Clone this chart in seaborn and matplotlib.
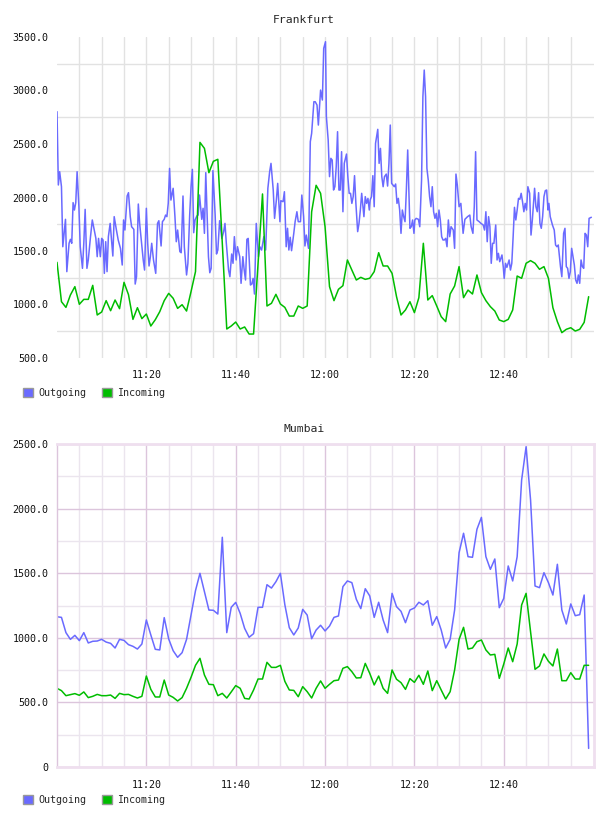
import pandas as pd
import numpy as np
import matplotlib
matplotlib.use("Agg")
import matplotlib.pyplot as plt
import matplotlib.dates as mdates
from matplotlib.patches import Patch
from matplotlib.ticker import FixedLocator, FuncFormatter
import seaborn as sns

''' DATA '''
base = pd.Timestamp("2024-01-01 11:00")

# Frankfurt outgoing (noisy, sub-minute samples): minutes after 11:00 and values
fra_out_min = [
    0.0, 0.3, 0.6, 1.0, 1.3, 1.9, 2.2, 2.7, 3.0, 3.3,
    3.6, 3.9, 4.2, 4.5, 4.9, 5.2, 5.7, 6.0, 6.3, 6.7,
    7.0, 7.5, 7.9, 8.4, 8.7, 9.0, 9.3, 9.7, 10.0, 10.3,
    10.6, 10.9, 11.2, 11.5, 11.9, 12.2, 12.5, 12.8, 13.3, 13.7,
    14.2, 14.6, 14.9, 15.2, 15.7, 16.0, 16.4, 16.7, 17.2, 17.5,
    17.8, 18.2, 18.5, 19.0, 19.3, 19.6, 20.0, 20.3, 20.6, 20.9,
    21.2, 21.6, 22.1, 22.5, 22.8, 23.3, 23.6, 24.0, 24.3, 24.6,
    24.9, 25.2, 25.5, 26.0, 26.4, 26.7, 27.0, 27.5, 27.8, 28.2,
    28.5, 29.0, 29.3, 29.7, 30.0, 30.3, 30.6, 30.9, 31.3, 31.6,
    31.9, 32.4, 32.7, 33.0, 33.3, 33.6, 33.9, 34.2, 34.5, 34.9,
    35.4, 35.7, 36.0, 36.4, 36.9, 37.3, 37.6, 37.9, 38.4, 38.7,
    39.1, 39.4, 39.7, 40.1, 40.4, 40.9, 41.2, 41.6, 41.9, 42.2,
    42.5, 42.8, 43.3, 43.6, 43.9, 44.2, 44.6, 45.1, 45.4, 45.8,
    46.3, 46.7, 47.2, 47.6, 47.9, 48.4, 48.7, 49.1, 49.4, 49.9,
    50.1, 50.6, 50.9, 51.3, 51.6, 51.9, 52.2, 52.5, 53.0, 53.3,
    53.7, 54.0, 54.5, 54.8, 55.2, 55.5, 55.8, 56.3, 56.7, 57.0,
    57.5, 57.8, 58.2, 58.5, 59.0, 59.4, 59.7, 60.1,
    60.3, 60.7, 61.0, 61.3, 61.6, 61.9, 62.2, 62.5, 62.8, 63.1,
    63.4, 63.7, 64.0, 64.3, 64.8, 65.1, 65.4, 65.7, 66.0, 66.3,
    66.6, 66.9, 67.3, 67.6, 67.9, 68.2, 68.7, 69.0, 69.3, 69.6,
    69.9, 70.1, 70.4, 70.7, 71.0, 71.3, 71.8, 72.1, 72.4, 72.7,
    73.0, 73.3, 73.7, 74.0, 74.3, 74.6, 74.9, 75.2, 75.5, 75.8,
    76.1, 76.4, 76.7, 77.0, 77.3, 77.6, 77.9, 78.2, 78.5, 79.0,
    79.3, 79.6, 79.9, 80.1, 80.4, 80.9, 81.2, 81.6, 81.9, 82.2,
    82.5, 82.8, 83.1, 83.4, 83.7, 84.0, 84.3, 84.6, 84.9, 85.2,
    85.5, 85.8, 86.1, 86.4, 86.7, 87.0, 87.3, 87.6, 87.9, 88.2,
    88.7, 89.0, 89.3, 89.6, 90.0, 90.4, 90.9, 91.3, 91.9, 92.4,
    92.7, 93.1, 93.4, 93.7, 94.0, 94.5, 94.9, 95.4, 95.7, 96.0,
    96.3, 96.6, 96.9, 97.2, 97.5, 97.8, 98.2, 98.5, 98.8, 99.1,
    99.6, 99.9, 100.1, 100.4, 100.7, 101.2, 101.5, 101.8, 102.1, 102.4,
    102.7, 103.0, 103.3, 103.6, 103.9, 104.2, 104.5, 104.8, 105.1, 105.4,
    105.8, 106.1, 106.4, 106.9, 107.2, 107.5, 107.8, 108.1, 108.4, 108.7,
    109.0, 109.3, 109.6, 109.9, 110.1, 110.4, 110.9, 111.3, 111.6, 111.9,
    112.2, 112.7, 113.0, 113.4, 113.7, 114.0, 114.3, 114.6, 114.9, 115.2,
    115.5, 115.8, 116.1, 116.4, 116.7, 117.0, 117.3, 117.6, 117.9, 118.2,
    118.5, 118.8, 119.1, 119.6,
]
fra_out_val = [
    2802, 2117, 2241, 2101, 1540, 1796, 1307, 1572, 1609, 1572,
    1952, 1883, 1952, 2241, 1914, 1540, 1338, 1572, 1889, 1338,
    1416, 1634, 1790, 1681, 1618, 1447, 1618, 1447, 1618, 1603,
    1291, 1587, 1307, 1634, 1758, 1603, 1453, 1821, 1696, 1603,
    1525, 1369, 1790, 1696, 2014, 2045, 1821, 1727, 1702, 1191,
    1260, 1939, 1758, 1540, 1416, 1322, 1899, 1572, 1360, 1447,
    1572, 1416, 1291, 1758, 1783, 1547, 1774, 1796, 1836, 1821,
    1945, 2272, 1976, 2086, 1821, 1587, 1696, 1494, 1484, 2014,
    1540, 1276, 1385, 1836, 2101, 2263, 1671, 1790, 1827, 1836,
    2023, 1796, 1899, 1665, 2232, 1836, 1447, 1297, 1338, 2251,
    1836, 1472, 1509, 1783, 1618, 1681, 1758, 1572, 1322, 1260,
    1472, 1385, 1634, 1416, 1540, 1447, 1198, 1447, 1322, 1229,
    1609, 1618, 1182, 1191, 1244, 1098, 1758, 1447, 1540, 1509,
    1634, 1509, 2086, 2241, 2319, 2070, 1805, 1976, 2132, 1774,
    1970, 1961, 2054, 1540, 1712, 1509, 1628, 1503, 1665, 1774,
    1867, 1774, 1774, 2023, 1821, 1547, 1649, 1525, 2522, 2600,
    2895, 2895, 2864, 2677, 3004, 2911, 3394, 3456,
    2755, 2537, 2195, 2366, 2350, 2070, 2101, 2288, 2615, 2070,
    2070, 2428, 1867, 2319, 2406, 2195, 2039, 2039, 1945, 2008,
    2204, 1945, 1681, 1758, 1883, 2039, 1821, 2008, 1945, 1992,
    1883, 1977, 2008, 2204, 1914, 2506, 2637, 2319, 2459, 2195,
    2101, 2195, 2219, 2107, 2319, 2677, 2132, 2117, 2101, 2126,
    1945, 1992, 1883, 1665, 1883, 1821, 1774, 2070, 2444, 1712,
    1727, 1790, 1665, 1790, 1805, 1796, 1727, 2163, 2942, 3191,
    2942, 2272, 2163, 2008, 1914, 2101, 1867, 1805, 1852, 1727,
    1883, 1790, 1634, 1603, 1603, 1618, 1540, 1790, 1634, 1727,
    1696, 1525, 2219, 2117, 1914, 1945, 1665, 1796, 1821, 1836,
    1727, 1665, 1914, 2428, 1790, 1774, 1758, 1743, 1696, 1867,
    1587, 1821, 1727, 1385, 1572, 1572, 1743, 1416, 1478, 1400,
    1463, 1347, 1244, 1385, 1347, 1416, 1322, 1385, 1634, 1908,
    1790, 1883, 1992, 1983, 2039, 1961, 1867, 1945, 1883, 2101,
    2039, 1649, 1790, 2086, 1914, 1867, 2045, 1758, 1712, 1821,
    2008, 2064, 2070, 1883, 1945, 1821, 1743, 1696, 1556, 1540,
    1556, 1354, 1260, 1665, 1712, 1354, 1338, 1244, 1307, 1525,
    1447, 1369, 1229, 1198, 1276, 1198, 1416, 1354, 1338, 1665,
    1649, 1540, 1805, 1815,
]

# one sample per minute from 11:00
fra_in = [
    1394, 1026, 973, 1089, 1167, 1002, 1048, 1048, 1179, 902,
    930, 1036, 942, 1042, 961, 1207, 1092, 861, 970, 868,
    911, 799, 858, 933, 1036, 1104, 1058, 964, 998, 939,
    1120, 1307, 2515, 2459, 2232, 2338, 2357, 1572, 771, 799,
    836, 771, 790, 724, 724, 1380, 2033, 986, 1011, 1095,
    1005, 973, 892, 892, 986, 964, 986, 1867, 2114, 2039,
    1727, 1167, 1036, 1142, 1176, 1416, 1322, 1229, 1254, 1235,
    1245, 1307, 1484, 1360, 1360, 1291, 1073, 902, 949, 1026,
    924, 1064, 1572, 1042, 1083, 986, 886, 840, 1098, 1173,
    1354, 1064, 1135, 1098, 1276, 1111, 1036, 980, 939, 855,
    840, 861, 949, 1266, 1245, 1385, 1410, 1385, 1329, 1354,
    1245, 970, 840, 737, 768, 783, 752, 768, 833, 1073,
]

mum_out = [
    1163, 1158, 1040, 988, 1019, 978, 1040, 960, 973, 975,
    988, 967, 957, 921, 988, 980, 947, 934, 913, 952,
    1138, 1022, 911, 906, 1156, 991, 900, 849, 885, 988,
    1176, 1365, 1499, 1357, 1215, 1213, 1184, 1778, 1040, 1236,
    1274, 1189, 1073, 1004, 1032, 1236, 1236, 1411, 1385, 1434,
    1499, 1256, 1078, 1022, 1076, 1220, 1176, 993, 1060, 1097,
    1053, 1091, 1158, 1169, 1396, 1440, 1427, 1298, 1226, 1380,
    1324, 1158, 1275, 1138, 1040, 1344, 1241, 1205, 1117, 1215,
    1231, 1275, 1254, 1287, 1097, 1164, 1060, 921, 988, 1215,
    1659, 1809, 1628, 1623, 1840, 1932, 1628, 1530, 1610, 1233,
    1305, 1556, 1440, 1628, 2221, 2479, 2067, 1401, 1388, 1504,
    1427, 1331, 1569, 1215, 1107, 1262, 1171, 1179, 1331, 144,
]
mum_in = [
    609, 591, 552, 560, 568, 555, 581, 537, 547, 562,
    552, 552, 557, 531, 570, 560, 562, 547, 534, 547,
    704, 601, 542, 542, 673, 557, 539, 511, 537, 609,
    694, 787, 841, 712, 640, 637, 552, 570, 534, 581,
    630, 609, 531, 526, 596, 681, 681, 810, 771, 771,
    787, 663, 596, 593, 544, 622, 583, 534, 609, 666,
    609, 640, 668, 673, 764, 777, 738, 689, 691, 802,
    725, 635, 704, 609, 570, 751, 679, 653, 601, 684,
    655, 710, 640, 743, 591, 668, 596, 526, 583, 751,
    988, 1081, 913, 921, 970, 983, 906, 867, 872, 686,
    797, 921, 815, 952, 1254, 1344, 1047, 756, 782, 875,
    818, 782, 913, 668, 668, 730, 681, 681, 787, 787,
]

series_names = ["Outgoing", "Incoming"]
label_minutes = [20, 40, 60, 80, 100]

''' STYLE '''
sns.set_style("white")
plt.rcParams['font.family'] = ['DejaVu Sans Mono', 'DejaVu Sans']
col_out = "#6a6aff"
col_in = "#00bd00"
fs = 7.2

fig = plt.figure(figsize=(6.08, 8.16), dpi=100)
ax1 = fig.add_axes([57/608, 1-358/816, 537/608, 321/816])
ax2 = fig.add_axes([57/608, 1-767/816, 537/608, 323/816])

per_min = pd.date_range(base, periods=120, freq="min")
fra_out_t = base + pd.to_timedelta(fra_out_min, unit="min")

sns.lineplot(x=fra_out_t, y=fra_out_val, ax=ax1, color=col_out, linewidth=1.1)
sns.lineplot(x=per_min, y=fra_in, ax=ax1, color=col_in, linewidth=1.1)
sns.lineplot(x=per_min, y=mum_out, ax=ax2, color=col_out, linewidth=1.1)
sns.lineplot(x=per_min, y=mum_in, ax=ax2, color=col_in, linewidth=1.1)

five_min = [base + pd.Timedelta(minutes=m) for m in range(5, 120, 5)]
label_ticks = [base + pd.Timedelta(minutes=m) for m in label_minutes]

def fmt_y(v, pos):
    return "0" if v == 0 else "%.1f" % v

for ax, lo, hi in [(ax1, 500, 3500), (ax2, 0, 2500)]:
    ax.set_xlim(base, base + pd.Timedelta(minutes=120.2))
    ax.set_ylim(lo, hi)
    ax.set_xticks(label_ticks)
    ax.xaxis.set_major_formatter(mdates.DateFormatter("%H:%M"))
    ax.xaxis.set_minor_locator(FixedLocator(mdates.date2num(five_min)))
    ax.set_yticks(np.arange(lo, hi + 1, 500))
    ax.yaxis.set_minor_locator(FixedLocator(np.arange(lo + 250, hi, 500)))
    ax.yaxis.set_major_formatter(FuncFormatter(fmt_y))
    ax.tick_params(which="both", length=0, labelsize=fs, colors="#111111")
    ax.tick_params(axis="x", pad=9)
    ax.tick_params(axis="y", pad=6)
    ax.set_xlabel("")
    ax.set_ylabel("")
    ax.set_axisbelow(True)

# Frankfurt: plain grey grid, no frame
ax1.grid(False)
ax1.grid(which="minor", axis="y", color="#e2e2e2", linewidth=1)
ax1.grid(which="both", axis="x", color="#e2e2e2", linewidth=1)
for s in ax1.spines.values():
    s.set_visible(False)

# Mumbai: purple grid with frame
ax2.grid(which="major", axis="both", color="#dcc5dc", linewidth=1)
ax2.grid(which="minor", axis="both", color="#ebe5ee", linewidth=1)
for s in ax2.spines.values():
    s.set_visible(True)
    s.set_color("#efdfef")
    s.set_linewidth(2)
ax2.spines["left"].set_color("#dcc5dc")
ax2.spines["left"].set_linewidth(1)

fig.text(0.5, 1-20/816, "Frankfurt", ha="center", va="center", fontsize=8.2)
fig.text(0.5, 1-429/816, "Mumbai", ha="center", va="center", fontsize=8.2)

handles = [Patch(facecolor=col_out, edgecolor="#999999", linewidth=1),
           Patch(facecolor=col_in, edgecolor="#999999", linewidth=1)]
for ypix in (393, 800):
    fig.legend(handles, series_names, loc="center left",
               bbox_to_anchor=(23/608, 1-ypix/816), ncol=2, frameon=False,
               fontsize=fs, handlelength=1.0, handleheight=1.0,
               handletextpad=0.5, columnspacing=1.6, borderpad=0, borderaxespad=0)

fig.savefig("out.png", dpi=100)
